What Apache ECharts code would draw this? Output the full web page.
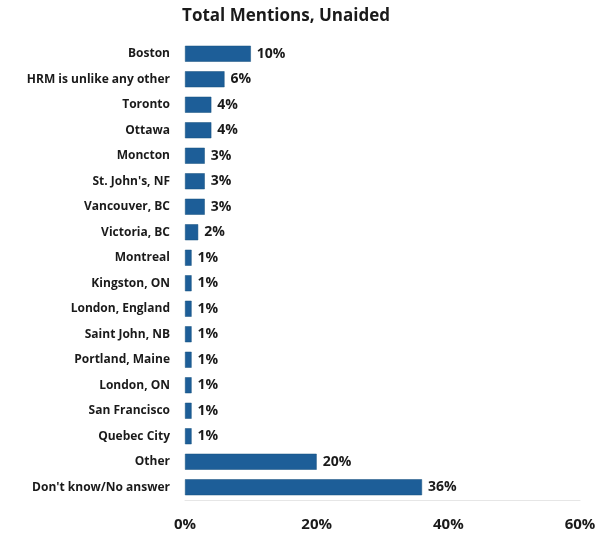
<!DOCTYPE html>
<html><head><meta charset="utf-8">
<script src="https://cdn.jsdelivr.net/npm/echarts@6/dist/echarts.min.js"></script>
<style>html,body{margin:0;padding:0;background:#fff}#c{width:599px;height:539px}</style>
</head><body><div id="c"></div>
<script>
const titleText = "Total Mentions, Unaided";
const categories = ["Boston","HRM is unlike any other","Toronto","Ottawa","Moncton","St. John's, NF","Vancouver, BC","Victoria, BC","Montreal","Kingston, ON","London, England","Saint John, NB","Portland, Maine","London, ON","San Francisco","Quebec City","Other","Don't know/No answer"];
const values = [10,6,4,4,3,3,3,2,1,1,1,1,1,1,1,1,20,36];
const tickValues = [0,20,40,60];

const chart = echarts.init(document.getElementById('c'));
chart.setOption({
  animation:false,
  backgroundColor:'#fff',
  title:{text:titleText,left:281,top:3,textAlign:'center',textStyle:{fontFamily:'Open Sans',fontWeight:'bold',fontSize:17,color:'#1a1a1a'}},
  grid:{left:185,right:19,top:41,bottom:39,containLabel:false},
  xAxis:{type:'value',min:0,max:60,interval:20,
    axisLabel:{formatter:v=>v+'%',margin:17,fontFamily:'Open Sans',fontWeight:'bold',fontSize:15,color:'#1a1a1a'},
    axisLine:{show:true,lineStyle:{color:'#e6e6e6'}},axisTick:{show:false},splitLine:{show:false}},
  yAxis:{type:'category',inverse:true,data:categories,
    axisLabel:{margin:15,fontFamily:'Open Sans',fontWeight:'bold',fontSize:12,color:'#1a1a1a'},
    axisLine:{show:false},axisTick:{show:false}},
  series:[{type:'bar',data:values,barWidth:16,
    itemStyle:{color:'#1d5e98',borderColor:'#17507f',borderWidth:0.5},
    label:{show:true,position:'right',distance:6,formatter:p=>p.value+'%',fontFamily:'Open Sans',fontWeight:'bold',fontSize:14,color:'#1a1a1a'}}]
});
</script></body></html>
